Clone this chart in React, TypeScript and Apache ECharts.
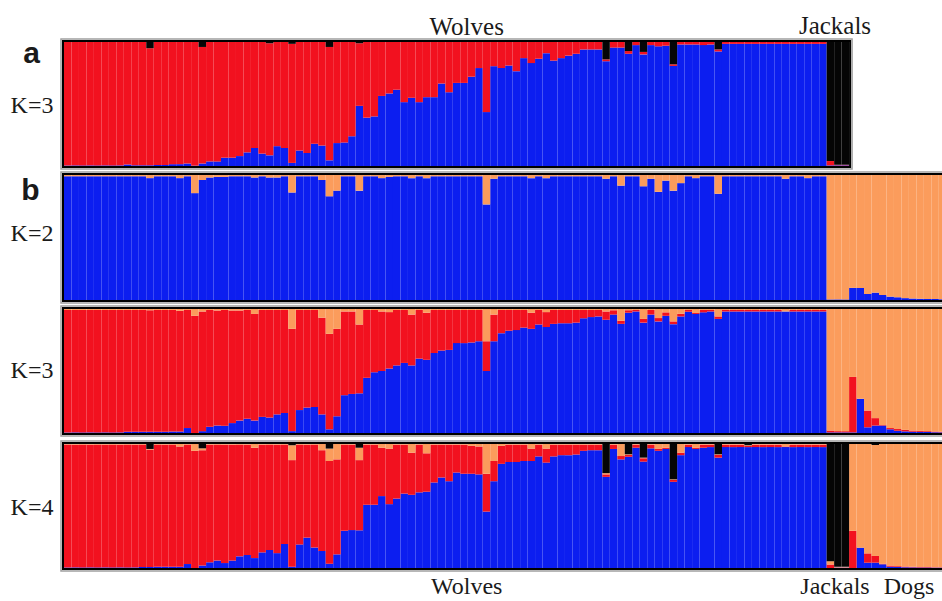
import React, { useEffect, useRef } from 'react';
import * as echarts from 'echarts';

const RED = '#f2111f';
const BLUE = '#0c1ef0';
const ORANGE = '#fb9c5c';
const BLACK = '#050505';

const BW = 7.477; // bar width in px

// ---------- Panel a (K=3): 102 wolves + 3 jackals ----------
const aWolfBlue = [
  0.005, 0.005, 0.005, 0.005, 0.005, 0.005, 0.005, 0.005, 0.012, 0.006,
  0.006, 0.006, 0.008, 0.008, 0.015, 0.015, 0.02, 0.003, 0.02, 0.037,
  0.037, 0.067, 0.067, 0.08, 0.11, 0.145, 0.10, 0.086, 0.16, 0.145,
  0.025, 0.125, 0.105, 0.18, 0.165, 0.046, 0.185, 0.19, 0.24, 0.485,
  0.39, 0.40, 0.565, 0.585, 0.615, 0.515, 0.55, 0.515, 0.555, 0.555,
  0.665, 0.595, 0.67, 0.67, 0.72, 0.79, 0.435, 0.805, 0.79, 0.81,
  0.765, 0.87, 0.83, 0.865, 0.91, 0.85, 0.87, 0.89, 0.905, 0.94,
  0.94, 0.94, 0.845, 0.955, 0.955, 0.905, 0.975, 0.9, 0.975, 0.965,
  0.97, 0.807, 0.98, 0.98, 0.98, 0.975, 0.98, 0.924, 0.985, 0.985,
  0.985, 0.985, 0.985, 0.985, 0.985, 0.985, 0.985, 0.985, 0.985, 0.985,
  0.985, 0.985,
];
const aWolfBlack = [
  0, 0, 0, 0, 0, 0, 0, 0, 0, 0,
  0, 0.05, 0, 0, 0, 0, 0, 0, 0.04, 0,
  0, 0, 0, 0, 0, 0, 0, 0.01, 0, 0,
  0.015, 0, 0, 0, 0, 0.04, 0, 0, 0, 0.01,
  0, 0, 0, 0, 0, 0, 0, 0, 0, 0,
  0, 0, 0, 0, 0, 0, 0, 0, 0, 0,
  0, 0, 0, 0, 0, 0, 0, 0, 0, 0,
  0, 0, 0.14, 0, 0, 0.073, 0, 0.08, 0, 0,
  0, 0.18, 0, 0, 0, 0, 0, 0.06, 0, 0,
  0, 0, 0, 0, 0, 0, 0, 0, 0, 0,
  0, 0,
];
const aJackalBlue = [0.005, 0.005, 0.005];
const aJackalBlack = [0.96, 0.99, 0.99];

// ---------- Panel b, K=2: 102 wolves + 3 jackals + 13 dogs ----------
const k2WolfOrange = [
  0.01, 0.01, 0.01, 0.01, 0.01, 0.01, 0.01, 0.01, 0.01, 0.01,
  0.01, 0.025, 0.01, 0.01, 0.01, 0.025, 0.01, 0.145, 0.04, 0.02,
  0.015, 0.015, 0.01, 0.01, 0.01, 0.02, 0.01, 0.02, 0.02, 0.01,
  0.14, 0.01, 0.01, 0.01, 0.04, 0.17, 0.125, 0.01, 0.01, 0.125,
  0.01, 0.01, 0.025, 0.015, 0.01, 0.01, 0.025, 0.01, 0.025, 0.01,
  0.01, 0.01, 0.01, 0.01, 0.01, 0.01, 0.235, 0.03, 0.01, 0.01,
  0.01, 0.01, 0.025, 0.01, 0.025, 0.01, 0.01, 0.01, 0.01, 0.01,
  0.01, 0.01, 0.03, 0.01, 0.085, 0.01, 0.01, 0.09, 0.03, 0.135,
  0.045, 0.125, 0.065, 0.01, 0.025, 0.01, 0.01, 0.15, 0.01, 0.01,
  0.01, 0.01, 0.01, 0.01, 0.01, 0.01, 0.03, 0.01, 0.01, 0.025,
  0.01, 0.01,
];
// jackals (3) then dogs (13)
const k2OtherBlue = [
  0.005, 0.005, 0.005,
  0.097, 0.097, 0.048, 0.059, 0.04, 0.027, 0.022, 0.015, 0.012, 0.01, 0.008, 0.008, 0.006,
];

// ---------- Panel b, K=3 ----------
const k3WolfBlue = [
  0.005, 0.005, 0.005, 0.005, 0.005, 0.005, 0.005, 0.005, 0.01, 0.01,
  0.01, 0.01, 0.01, 0.01, 0.012, 0.012, 0.04, 0.0, 0.015, 0.05,
  0.06, 0.058, 0.08, 0.1, 0.115, 0.1, 0.13, 0.125, 0.15, 0.162,
  0.015, 0.185, 0.205, 0.21, 0.15, 0.03, 0.135, 0.305, 0.315, 0.32,
  0.445, 0.49, 0.5, 0.52, 0.545, 0.565, 0.545, 0.6, 0.59, 0.645,
  0.665, 0.67, 0.725, 0.725, 0.73, 0.74, 0.5, 0.74, 0.805, 0.825,
  0.83, 0.85, 0.84, 0.875, 0.855, 0.88, 0.885, 0.885, 0.89, 0.925,
  0.935, 0.94, 0.913, 0.955, 0.88, 0.97, 0.98, 0.89, 0.955, 0.9,
  0.945, 0.878, 0.94, 0.978, 0.96, 0.973, 0.98, 0.92, 0.98, 0.98,
  0.98, 0.98, 0.98, 0.98, 0.98, 0.98, 0.98, 0.98, 0.98, 0.98,
  0.98, 0.98,
];
const k3WolfOrange = [
  0.008, 0.008, 0.008, 0.008, 0.008, 0.008, 0.008, 0.008, 0.008, 0.008,
  0.008, 0.01, 0.008, 0.008, 0.008, 0.015, 0.008, 0.055, 0.02, 0.008,
  0.012, 0.008, 0.012, 0.012, 0.008, 0.04, 0.008, 0.008, 0.008, 0.008,
  0.16, 0.008, 0.008, 0.008, 0.07, 0.2, 0.16, 0.02, 0.02, 0.125,
  0.008, 0.008, 0.02, 0.025, 0.008, 0.008, 0.045, 0.008, 0.03, 0.008,
  0.008, 0.008, 0.008, 0.008, 0.008, 0.008, 0.26, 0.045, 0.008, 0.008,
  0.008, 0.008, 0.03, 0.008, 0.025, 0.008, 0.008, 0.008, 0.008, 0.008,
  0.008, 0.008, 0.02, 0.01, 0.095, 0.01, 0.008, 0.08, 0.008, 0.073,
  0.027, 0.1, 0.038, 0.008, 0.032, 0.008, 0.008, 0.06, 0.008, 0.008,
  0.008, 0.008, 0.008, 0.008, 0.008, 0.008, 0.027, 0.008, 0.008, 0.008,
  0.008, 0.008,
];
const k3OtherBlue = [
  0.005, 0.005, 0.005,
  0.005, 0.276, 0.046, 0.06, 0.06, 0.03, 0.018, 0.013, 0.01, 0.009, 0.008, 0.006, 0.005,
];
const k3OtherRed = [
  0.015, 0.01, 0.01,
  0.447, 0.0, 0.135, 0.06, 0.005, 0.01, 0.014, 0.012, 0.01, 0.008, 0.007, 0.006, 0.005,
];

// ---------- Panel b, K=4 ----------
const k4WolfBlue = [
  0.005, 0.005, 0.005, 0.005, 0.005, 0.005, 0.005, 0.005, 0.005, 0.005,
  0.008, 0.008, 0.01, 0.01, 0.01, 0.01, 0.032, 0.0, 0.02, 0.046,
  0.06, 0.04, 0.06, 0.094, 0.105, 0.08, 0.126, 0.145, 0.12, 0.194,
  0.01, 0.19, 0.245, 0.165, 0.137, 0.035, 0.11, 0.3, 0.306, 0.304,
  0.51, 0.51, 0.58, 0.515, 0.56, 0.6, 0.59, 0.61, 0.615, 0.69,
  0.73, 0.7, 0.77, 0.76, 0.76, 0.755, 0.455, 0.7, 0.84, 0.855,
  0.855, 0.863, 0.863, 0.9, 0.85, 0.9, 0.91, 0.91, 0.915, 0.945,
  0.95, 0.95, 0.735, 0.96, 0.876, 0.897, 0.97, 0.858, 0.965, 0.945,
  0.96, 0.695, 0.91, 0.975, 0.96, 0.97, 0.975, 0.89, 0.975, 0.975,
  0.975, 0.975, 0.975, 0.975, 0.975, 0.975, 0.975, 0.975, 0.975, 0.975,
  0.975, 0.975,
];
const k4WolfOrange = [
  0.005, 0.005, 0.005, 0.005, 0.005, 0.005, 0.005, 0.005, 0.005, 0.005,
  0.005, 0.005, 0.005, 0.005, 0.005, 0.02, 0.005, 0.055, 0.015, 0.005,
  0.005, 0.005, 0.005, 0.005, 0.005, 0.03, 0.005, 0.005, 0.005, 0.005,
  0.12, 0.005, 0.005, 0.005, 0.05, 0.1, 0.124, 0.005, 0.005, 0.1,
  0.005, 0.005, 0.03, 0.037, 0.005, 0.005, 0.07, 0.005, 0.075, 0.005,
  0.005, 0.005, 0.005, 0.005, 0.015, 0.02, 0.24, 0.137, 0.015, 0.005,
  0.005, 0.005, 0.037, 0.005, 0.037, 0.005, 0.005, 0.005, 0.005, 0.005,
  0.005, 0.005, 0.01, 0.005, 0.097, 0.005, 0.005, 0.005, 0.005, 0.04,
  0.03, 0.005, 0.07, 0.005, 0.03, 0.005, 0.005, 0.005, 0.005, 0.005,
  0.005, 0.005, 0.005, 0.005, 0.005, 0.005, 0.02, 0.005, 0.005, 0.005,
  0.005, 0.005,
];
const k4WolfBlack = [
  0, 0, 0, 0, 0, 0, 0, 0, 0, 0,
  0, 0.04, 0, 0, 0, 0, 0, 0, 0.035, 0,
  0, 0, 0, 0, 0, 0, 0, 0, 0, 0,
  0.01, 0, 0, 0, 0, 0.037, 0, 0, 0, 0.03,
  0, 0, 0, 0, 0, 0, 0, 0, 0, 0,
  0, 0, 0, 0, 0, 0, 0, 0, 0, 0,
  0, 0, 0, 0, 0, 0, 0, 0, 0, 0,
  0, 0, 0.235, 0, 0, 0.083, 0, 0.11, 0, 0,
  0, 0.285, 0, 0, 0, 0, 0, 0.083, 0, 0,
  0, 0.01, 0, 0, 0, 0, 0, 0, 0, 0,
  0, 0,
];
const k4OtherBlue = [
  0.0, 0.003, 0.003,
  0.0, 0.164, 0.043, 0.043, 0.03, 0.01, 0.008, 0.006, 0.005, 0.004, 0.004, 0.003, 0.003,
];
const k4OtherRed = [
  0.028, 0.002, 0.002,
  0.3, 0.0, 0.075, 0.054, 0.005, 0.01, 0.007, 0.006, 0.005, 0.004, 0.004, 0.003, 0.003,
];
const k4OtherBlack = [
  0.945, 0.99, 0.99,
  0, 0, 0, 0.008, 0, 0, 0, 0, 0, 0, 0, 0, 0,
];

// ---------- categories ----------
const wolves = aWolfBlue.map((_, i) => `Wolf ${i + 1}`);
const jackals = ['Jackal 1', 'Jackal 2', 'Jackal 3'];
const dogs = k2OtherBlue.slice(3).map((_, i) => `Dog ${i + 1}`);
const catsA = [...wolves, ...jackals];
const catsB = [...wolves, ...jackals, ...dogs];

// ---------- derived full arrays ----------
const clamp = (v: number) => Math.max(0, +v.toFixed(4));

const aBlue = [...aWolfBlue, ...aJackalBlue];
const aBlack = [...aWolfBlack, ...aJackalBlack];
const aRed = aBlue.map((b, i) => clamp(1 - b - aBlack[i]));

const k2Blue = [...k2WolfOrange.map((o) => clamp(1 - o)), ...k2OtherBlue];
const k2Orange = [...k2WolfOrange, ...k2OtherBlue.map((b) => clamp(1 - b))];

const k3Blue = [...k3WolfBlue, ...k3OtherBlue];
const k3Orange = [...k3WolfOrange, ...k3OtherBlue.map((b, i) => clamp(1 - b - k3OtherRed[i]))];
const k3Red = k3Blue.map((b, i) => clamp(1 - b - k3Orange[i]));

const k4Blue = [...k4WolfBlue, ...k4OtherBlue];
const k4Black = [...k4WolfBlack, ...k4OtherBlack];
const k4Orange = [
  ...k4WolfOrange,
  ...k4OtherBlue.map((b, i) => clamp(1 - b - k4OtherRed[i] - k4OtherBlack[i])),
];
const k4Red = k4Blue.map((b, i) => clamp(1 - b - k4Orange[i] - k4Black[i]));

const SERIF = "'Liberation Serif', 'DejaVu Serif', serif";
const SANS = "'Liberation Sans', Arial, sans-serif";

const CHART_W = 952; // wider than the 942 viewport; the overflow is hidden (panel b is cropped at the right)

export default function App() {
  const ref = useRef<HTMLDivElement>(null);

  useEffect(() => {
    document.body.style.margin = '0';
    document.body.style.overflow = 'hidden';
    document.documentElement.style.overflow = 'hidden';
    if (!ref.current) return;
    const chart = echarts.init(ref.current, null, { renderer: 'svg' });

    const tops = [42, 175, 309, 444];
    const heights = [124, 125, 124, 124];
    const grids = tops.map((t, i) => ({
      left: 64,
      top: t,
      width: (i === 0 ? catsA.length : catsB.length) * BW,
      height: heights[i],
    }));

    const bar = (name: string, data: number[], color: string, idx: number, stack: string) => ({
      type: 'bar',
      name,
      data,
      xAxisIndex: idx,
      yAxisIndex: idx,
      stack,
      barCategoryGap: '0%',
      barGap: '0%',
      itemStyle: { color },
      silent: true,
      emphasis: { disabled: true },
    });

    const frame = (x: number, y: number, w: number, h: number) => [
      {
        type: 'rect',
        shape: { x: x - 2, y: y - 2, width: w + 4, height: h + 4 },
        style: { fill: 'none', stroke: '#a0a0a0', lineWidth: 1.5 },
        z: 100,
        silent: true,
      },
      {
        type: 'rect',
        shape: { x, y, width: w, height: h },
        style: { fill: 'none', stroke: '#000', lineWidth: 2 },
        z: 101,
        silent: true,
      },
    ];

    const txt = (text: string, x: number, y: number, font: string, align = 'center') => ({
      type: 'text',
      x,
      y,
      z: 110,
      silent: true,
      style: { text, font, fill: '#1a1a1a', align, verticalAlign: 'middle' },
    });

    const wideW = 960;
    const graphic: any[] = [
      ...frame(63, 41, catsA.length * BW + 2, 126),
      ...frame(63, 174, wideW, 127),
      ...frame(63, 308, wideW, 126),
      ...frame(63, 443, wideW, 126),
      txt('a', 31.5, 52, `bold 30px ${SANS}`),
      txt('b', 30.5, 189, `bold 30px ${SANS}`),
      txt('K=3', 32, 105, `24px ${SERIF}`),
      txt('K=2', 32, 233, `24px ${SERIF}`),
      txt('K=3', 32, 370, `24px ${SERIF}`),
      txt('K=4', 32, 507, `24px ${SERIF}`),
      txt('Wolves', 466.7, 26, `25px ${SERIF}`),
      txt('Jackals', 835, 25, `25px ${SERIF}`),
      txt('Wolves', 466.7, 586, `24px ${SERIF}`),
      txt('Jackals', 835, 586, `24px ${SERIF}`),
      txt('Dogs', 909, 586, `24px ${SERIF}`),
    ];

    chart.setOption({
      animation: false,
      backgroundColor: '#ffffff',
      grid: grids,
      xAxis: grids.map((_, i) => ({
        type: 'category',
        gridIndex: i,
        data: i === 0 ? catsA : catsB,
        show: false,
        boundaryGap: true,
      })),
      yAxis: grids.map((_, i) => ({
        type: 'value',
        gridIndex: i,
        min: 0,
        max: 1,
        show: false,
      })),
      series: [
        bar('a blue', aBlue, BLUE, 0, 'a'),
        bar('a red', aRed, RED, 0, 'a'),
        bar('a black', aBlack, BLACK, 0, 'a'),
        bar('K2 blue', k2Blue, BLUE, 1, 'k2'),
        bar('K2 orange', k2Orange, ORANGE, 1, 'k2'),
        bar('K3 blue', k3Blue, BLUE, 2, 'k3'),
        bar('K3 red', k3Red, RED, 2, 'k3'),
        bar('K3 orange', k3Orange, ORANGE, 2, 'k3'),
        bar('K4 blue', k4Blue, BLUE, 3, 'k4'),
        bar('K4 red', k4Red, RED, 3, 'k4'),
        bar('K4 orange', k4Orange, ORANGE, 3, 'k4'),
        bar('K4 black', k4Black, BLACK, 3, 'k4'),
      ],
      graphic,
    });

    return () => chart.dispose();
  }, []);

  return (
    <div style={{ width: 942, height: 601, overflow: 'hidden' }}>
      <div ref={ref} style={{ width: CHART_W, height: 601 }} />
    </div>
  );
}
